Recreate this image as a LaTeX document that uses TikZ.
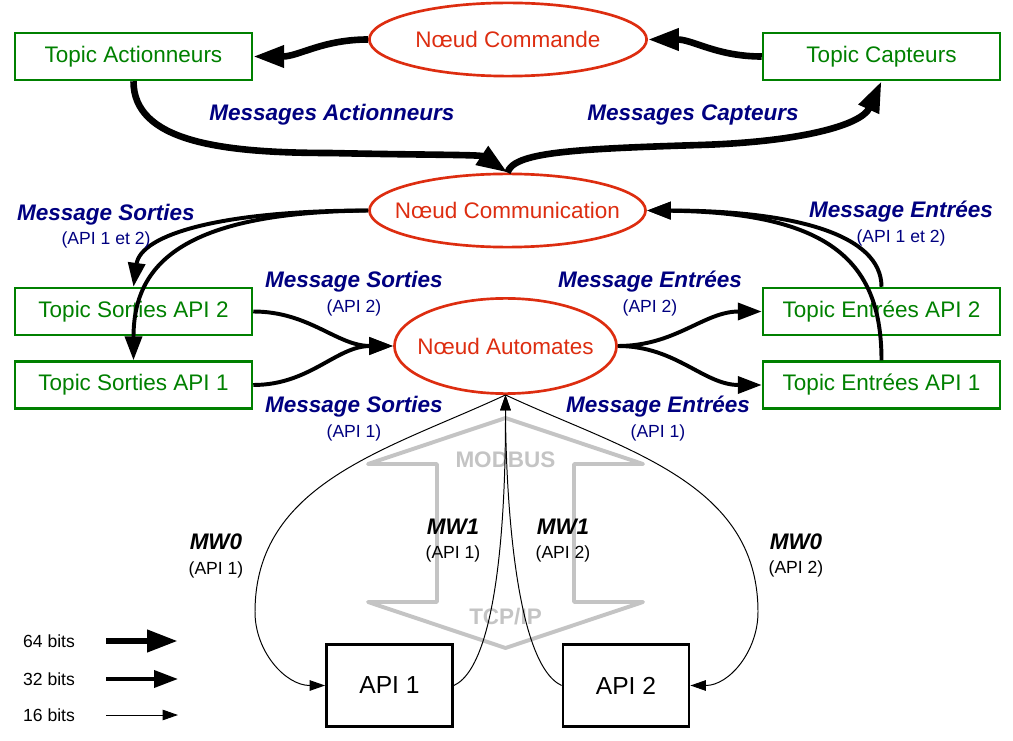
\documentclass[tikz,border=0pt]{standalone}
\usepackage{fontspec}
\setmainfont{Liberation Sans}
\usetikzlibrary{arrows.meta,shapes.geometric}
\definecolor{topicgreen}{RGB}{0,128,0}
\definecolor{noeudred}{RGB}{221,45,16}
\definecolor{msgblue}{RGB}{0,0,128}
\definecolor{modbusgray}{RGB}{196,196,196}
\newcommand{\apinote}[1]{{\fontsize{12.5}{17.5}\selectfont\mdseries\upshape #1}}

\begin{document}
\begin{tikzpicture}[
    x=0.025cm, y=0.025cm,
    topic/.style={rectangle, draw=topicgreen, line width=1.6pt, text=topicgreen,
        minimum width=5.93cm, minimum height=1.18cm,
        font=\fontsize{16}{19}\selectfont},
    noeud/.style={ellipse, draw=noeudred, line width=1.9pt, text=noeudred,
        inner xsep=-15pt, font=\fontsize{16}{19}\selectfont},
    plc/.style={rectangle, draw, line width=2pt, minimum width=3.15cm,
        minimum height=2.05cm, font=\fontsize{17.5}{20}\selectfont},
    msg/.style={text=msgblue, align=center,
        font=\fontsize{16}{17.5}\selectfont\bfseries\itshape},
    mw/.style={align=center, font=\fontsize{16}{17.5}\selectfont\bfseries\itshape},
    legende/.style={font=\fontsize{12.5}{15}\selectfont},
    modbus/.style={draw=modbusgray, line width=2.8pt, line join=round},
    modbustxt/.style={text=modbusgray, font=\fontsize{16}{19}\selectfont\bfseries},
    arrow64/.style={line width=4.7pt, -{Triangle[length=22pt, width=15pt]}},
    arrow32/.style={line width=2.8pt, -{Triangle[length=17pt, width=12pt]}},
    arrow16/.style={line width=0.7pt, -{Triangle[length=11pt, width=7.5pt]}}
]
    \useasboundingbox (0,0) rectangle (1013,-741);

    % noeuds ROS
    \node[noeud, minimum width=6.93cm, minimum height=1.83cm] (cmd) at (508,-39.5) {Nœud Commande};
    \node[noeud, minimum width=6.9cm, minimum height=1.83cm] (comm) at (507.5,-210.5) {Nœud Communication};
    \node[noeud, minimum width=5.55cm, minimum height=2.38cm] (auto) at (505.5,-346) {Nœud Automates};

    % topics
    \node[topic] (act) at (133.5,-56.5) {Topic Actionneurs};
    \node[topic] (cap) at (881.5,-56.5) {Topic Capteurs};
    \node[topic] (sort2) at (133.5,-311.5) {Topic Sorties API 2};
    \node[topic] (sort1) at (133.5,-385) {Topic Sorties API 1};
    \node[topic] (entr2) at (881.5,-311.5) {Topic Entrées API 2};
    \node[topic] (entr1) at (881.5,-385) {Topic Entrées API 1};

    % automates
    \node[plc] (api1) at (389.5,-685.5) {API 1};
    \node[plc] (api2) at (626,-685.5) {API 2};

    % modbus tcp/ip
    \draw[modbus] (505.5,-418) -- (643,-464) -- (574,-464) -- (574,-602) -- (643,-602)
        -- (505.5,-648) -- (368,-602) -- (437,-602) -- (437,-464) -- (368,-464) -- cycle;
    \node[modbustxt] (modbus) at (505.5,-460) {MODBUS};
    \node[modbustxt] (tcpip) at (505.5,-617) {TCP/IP};

    % 64 bits
    \draw[arrow64] (cmd.west) to[out=180, in=0] (act.east);
    \draw[arrow64] (cap.west) to[out=180, in=0] (cmd.east);
    \draw[arrow64] (act.south) .. controls +(0,-60) and +(-110,0) .. (330,-153)
        .. controls +(90,-2) and +(-27,18) .. (comm.north);
    \draw[arrow64] (comm.north) .. controls +(6,20) and +(-130,-4) .. (700,-145)
        .. controls +(100,3) and +(-20,-44) .. (cap.south);

    % 32 bits
    \draw[arrow32] (comm.west) .. controls +(-148,0) and +(7,52) .. (sort2.north);
    \draw[arrow32] (comm.west) .. controls +(-188,-2) and +(0,95) .. (sort1.north);
    \draw[arrow32] (entr2.north) .. controls +(0,52) and +(148,0) .. (comm.east);
    \draw[arrow32] (entr1.north) .. controls +(0,95) and +(188,-2) .. (comm.east);
    \draw[arrow32] (sort2.east) to[out=0, in=180] (auto.west);
    \draw[arrow32] (sort1.east) to[out=0, in=180] (auto.west);
    \draw[arrow32] (auto.east) to[out=0, in=180] (entr2.west);
    \draw[arrow32] (auto.east) to[out=0, in=180] (entr1.west);

    % 16 bits
    \draw[arrow16] (auto.south) to[out=205, in=90] (255,-612) to[out=-90, in=180] (api1.west);
    \draw[arrow16] (auto.south) to[out=-25, in=90] (758,-612) to[out=-90, in=0] (api2.east);
    \draw[arrow16] (api1.east) to[out=25, in=-90, looseness=0.5] (auto.south);
    \draw[arrow16] (api2.west) to[out=155, in=-90, looseness=0.5] (auto.south);

    % messages
    \node[msg] (msgact) at (332,-115) {Messages Actionneurs};
    \node[msg] (msgcap) at (693,-115) {Messages Capteurs};
    \node[msg] (msgsort12) at (106,-226) {Message Sorties\\\apinote{(API 1 et 2)}};
    \node[msg] (msgsort2) at (354,-293.5) {Message Sorties\\\apinote{(API 2)}};
    \node[msg] (msgsort1) at (354,-418.5) {Message Sorties\\\apinote{(API 1)}};
    \node[msg] (msgentr2) at (650,-293.5) {Message Entrées\\\apinote{(API 2)}};
    \node[msg] (msgentr1) at (658,-418.5) {Message Entrées\\\apinote{(API 1)}};
    \node[msg] (msgentr12) at (901,-223.5) {Message Entrées\\\apinote{(API 1 et 2)}};
    \node[mw] (mw0a) at (216,-556) {MW0\\\apinote{(API 1)}};
    \node[mw] (mw1a) at (453,-540.5) {MW1\\\apinote{(API 1)}};
    \node[mw] (mw1b) at (563,-540.5) {MW1\\\apinote{(API 2)}};
    \node[mw] (mw0b) at (796,-555.5) {MW0\\\apinote{(API 2)}};

    % legende
    \foreach \n/\y in {64/641, 32/679, 16/715} {
        \node[legende] (leg\n) at (49,-\y) {\n~bits};
        \coordinate (leg\n s) at (106,-\y);
        \coordinate (leg\n e) at (178,-\y);
        \draw[arrow\n] (leg\n s) -- (leg\n e);
    }
\end{tikzpicture}
\end{document}
